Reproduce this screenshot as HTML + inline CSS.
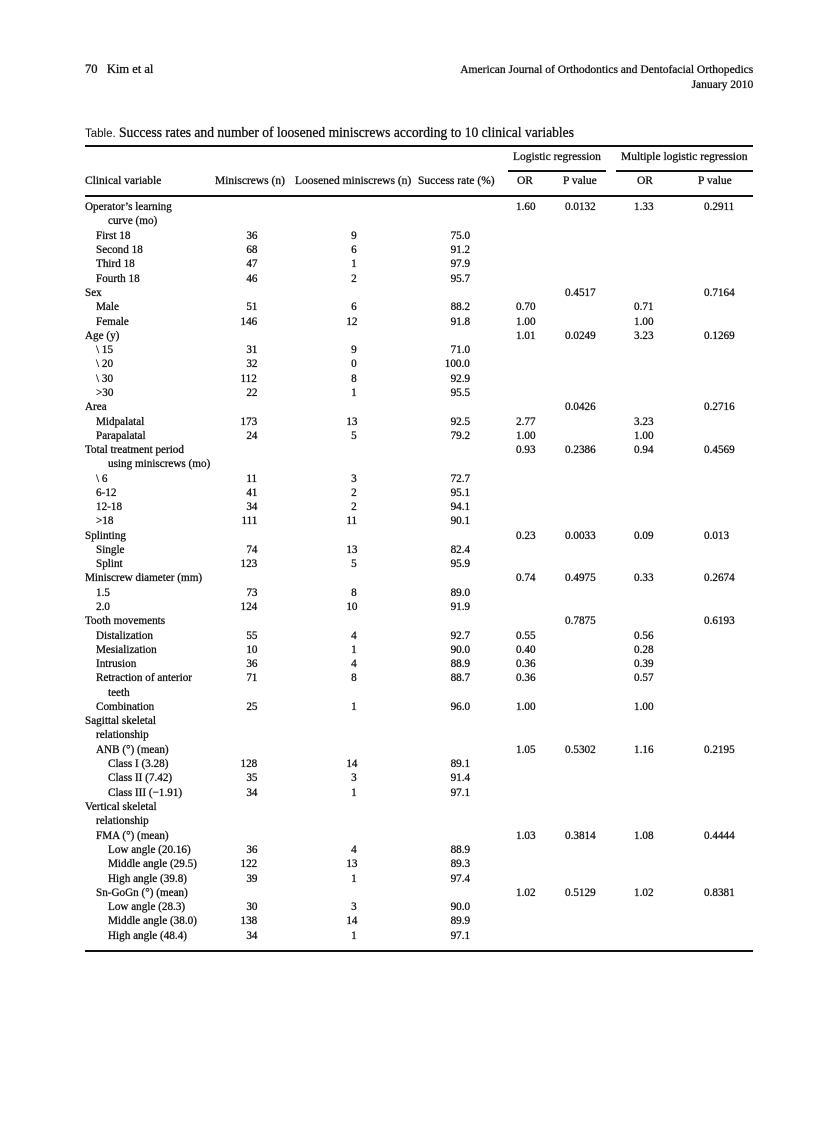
<!DOCTYPE html>
<html><head><meta charset="utf-8"><style>
body{margin:0;background:#fff;}
#pg{position:relative;width:838px;height:1122px;overflow:hidden;font-family:"Liberation Serif",serif;color:#111;font-size:11.5px;-webkit-text-stroke:0.3px #111;}
.r{position:absolute;left:0;width:838px;height:15px;line-height:15px;}
.r span{position:absolute;white-space:nowrap;transform:scaleX(.97);}
.m{right:581px;transform-origin:right center!important}
.n{right:481px;transform-origin:right center!important}
.s{right:368px;transform-origin:right center!important}
.o{left:516px;transform-origin:left center!important}
.p{left:565px;transform-origin:left center!important}
.q{left:634px;transform-origin:left center!important}
.v{left:704px;transform-origin:left center!important}
.a{left:85px;transform-origin:left center!important}
.b{left:96px;transform-origin:left center!important}
.c{left:108px;transform-origin:left center!important}
.hl{position:absolute;background:#111;}
.t{position:absolute;white-space:nowrap;}
.h span{transform:scaleX(1.0)!important;transform-origin:left center}
</style></head><body><div id="pg">
<div class="t" style="left:85px;top:62px;font-size:12.5px;">70&nbsp;&nbsp;&nbsp;Kim et al</div>
<div class="t" style="right:85px;top:62px;font-size:12px;transform:scaleX(.96);transform-origin:right">American Journal of Orthodontics and Dentofacial Orthopedics</div>
<div class="t" style="right:85px;top:77px;font-size:12px;transform:scaleX(.96);transform-origin:right">January 2010</div>
<div class="t" style="left:85px;top:125px;font-size:15px;"><span style="font-family:'Liberation Sans',sans-serif;font-size:11.5px;-webkit-text-stroke:0">Table.</span> <span style="display:inline-block;transform:scaleX(.905);transform-origin:left">Success rates and number of loosened miniscrews according to 10 clinical variables</span></div>
<div class="hl" style="left:85px;top:145px;width:668px;height:2px"></div>
<div class="r h" style="top:150px"><span style="left:513px">Logistic regression</span><span style="left:621px">Multiple logistic regression</span></div>
<div class="hl" style="left:508px;top:170px;width:98px;height:1.5px"></div>
<div class="hl" style="left:616px;top:170px;width:137px;height:1.5px"></div>
<div class="r h" style="top:174px"><span style="left:85px">Clinical variable</span><span style="left:215px">Miniscrews (n)</span><span style="left:295px">Loosened miniscrews (n)</span><span style="left:418px">Success rate (%)</span><span style="left:517px">OR</span><span style="left:563px">P value</span><span style="left:637px">OR</span><span style="left:698px">P value</span></div>
<div class="hl" style="left:85px;top:195px;width:668px;height:1.5px"></div>
<div class="r" style="top:200px"><span class="a">Operator’s learning</span><span class="o">1.60</span><span class="p">0.0132</span><span class="q">1.33</span><span class="v">0.2911</span></div>
<div class="r" style="top:214px"><span class="c">curve (mo)</span></div>
<div class="r" style="top:229px"><span class="b">First 18</span><span class="m">36</span><span class="n">9</span><span class="s">75.0</span></div>
<div class="r" style="top:243px"><span class="b">Second 18</span><span class="m">68</span><span class="n">6</span><span class="s">91.2</span></div>
<div class="r" style="top:257px"><span class="b">Third 18</span><span class="m">47</span><span class="n">1</span><span class="s">97.9</span></div>
<div class="r" style="top:272px"><span class="b">Fourth 18</span><span class="m">46</span><span class="n">2</span><span class="s">95.7</span></div>
<div class="r" style="top:286px"><span class="a">Sex</span><span class="p">0.4517</span><span class="v">0.7164</span></div>
<div class="r" style="top:300px"><span class="b">Male</span><span class="m">51</span><span class="n">6</span><span class="s">88.2</span><span class="o">0.70</span><span class="q">0.71</span></div>
<div class="r" style="top:315px"><span class="b">Female</span><span class="m">146</span><span class="n">12</span><span class="s">91.8</span><span class="o">1.00</span><span class="q">1.00</span></div>
<div class="r" style="top:329px"><span class="a">Age (y)</span><span class="o">1.01</span><span class="p">0.0249</span><span class="q">3.23</span><span class="v">0.1269</span></div>
<div class="r" style="top:343px"><span class="b">\ 15</span><span class="m">31</span><span class="n">9</span><span class="s">71.0</span></div>
<div class="r" style="top:357px"><span class="b">\ 20</span><span class="m">32</span><span class="n">0</span><span class="s">100.0</span></div>
<div class="r" style="top:372px"><span class="b">\ 30</span><span class="m">112</span><span class="n">8</span><span class="s">92.9</span></div>
<div class="r" style="top:386px"><span class="b">&gt;30</span><span class="m">22</span><span class="n">1</span><span class="s">95.5</span></div>
<div class="r" style="top:400px"><span class="a">Area</span><span class="p">0.0426</span><span class="v">0.2716</span></div>
<div class="r" style="top:415px"><span class="b">Midpalatal</span><span class="m">173</span><span class="n">13</span><span class="s">92.5</span><span class="o">2.77</span><span class="q">3.23</span></div>
<div class="r" style="top:429px"><span class="b">Parapalatal</span><span class="m">24</span><span class="n">5</span><span class="s">79.2</span><span class="o">1.00</span><span class="q">1.00</span></div>
<div class="r" style="top:443px"><span class="a">Total treatment period</span><span class="o">0.93</span><span class="p">0.2386</span><span class="q">0.94</span><span class="v">0.4569</span></div>
<div class="r" style="top:457px"><span class="c">using miniscrews (mo)</span></div>
<div class="r" style="top:472px"><span class="b">\ 6</span><span class="m">11</span><span class="n">3</span><span class="s">72.7</span></div>
<div class="r" style="top:486px"><span class="b">6-12</span><span class="m">41</span><span class="n">2</span><span class="s">95.1</span></div>
<div class="r" style="top:500px"><span class="b">12-18</span><span class="m">34</span><span class="n">2</span><span class="s">94.1</span></div>
<div class="r" style="top:514px"><span class="b">&gt;18</span><span class="m">111</span><span class="n">11</span><span class="s">90.1</span></div>
<div class="r" style="top:529px"><span class="a">Splinting</span><span class="o">0.23</span><span class="p">0.0033</span><span class="q">0.09</span><span class="v">0.013</span></div>
<div class="r" style="top:543px"><span class="b">Single</span><span class="m">74</span><span class="n">13</span><span class="s">82.4</span></div>
<div class="r" style="top:557px"><span class="b">Splint</span><span class="m">123</span><span class="n">5</span><span class="s">95.9</span></div>
<div class="r" style="top:571px"><span class="a">Miniscrew diameter (mm)</span><span class="o">0.74</span><span class="p">0.4975</span><span class="q">0.33</span><span class="v">0.2674</span></div>
<div class="r" style="top:586px"><span class="b">1.5</span><span class="m">73</span><span class="n">8</span><span class="s">89.0</span></div>
<div class="r" style="top:600px"><span class="b">2.0</span><span class="m">124</span><span class="n">10</span><span class="s">91.9</span></div>
<div class="r" style="top:614px"><span class="a">Tooth movements</span><span class="p">0.7875</span><span class="v">0.6193</span></div>
<div class="r" style="top:629px"><span class="b">Distalization</span><span class="m">55</span><span class="n">4</span><span class="s">92.7</span><span class="o">0.55</span><span class="q">0.56</span></div>
<div class="r" style="top:643px"><span class="b">Mesialization</span><span class="m">10</span><span class="n">1</span><span class="s">90.0</span><span class="o">0.40</span><span class="q">0.28</span></div>
<div class="r" style="top:657px"><span class="b">Intrusion</span><span class="m">36</span><span class="n">4</span><span class="s">88.9</span><span class="o">0.36</span><span class="q">0.39</span></div>
<div class="r" style="top:671px"><span class="b">Retraction of anterior</span><span class="m">71</span><span class="n">8</span><span class="s">88.7</span><span class="o">0.36</span><span class="q">0.57</span></div>
<div class="r" style="top:686px"><span class="c">teeth</span></div>
<div class="r" style="top:700px"><span class="b">Combination</span><span class="m">25</span><span class="n">1</span><span class="s">96.0</span><span class="o">1.00</span><span class="q">1.00</span></div>
<div class="r" style="top:714px"><span class="a">Sagittal skeletal</span></div>
<div class="r" style="top:728px"><span class="b">relationship</span></div>
<div class="r" style="top:743px"><span class="b">ANB (°) (mean)</span><span class="o">1.05</span><span class="p">0.5302</span><span class="q">1.16</span><span class="v">0.2195</span></div>
<div class="r" style="top:757px"><span class="c">Class I (3.28)</span><span class="m">128</span><span class="n">14</span><span class="s">89.1</span></div>
<div class="r" style="top:771px"><span class="c">Class II (7.42)</span><span class="m">35</span><span class="n">3</span><span class="s">91.4</span></div>
<div class="r" style="top:786px"><span class="c">Class III (−1.91)</span><span class="m">34</span><span class="n">1</span><span class="s">97.1</span></div>
<div class="r" style="top:800px"><span class="a">Vertical skeletal</span></div>
<div class="r" style="top:814px"><span class="b">relationship</span></div>
<div class="r" style="top:829px"><span class="b">FMA (°) (mean)</span><span class="o">1.03</span><span class="p">0.3814</span><span class="q">1.08</span><span class="v">0.4444</span></div>
<div class="r" style="top:843px"><span class="c">Low angle (20.16)</span><span class="m">36</span><span class="n">4</span><span class="s">88.9</span></div>
<div class="r" style="top:857px"><span class="c">Middle angle (29.5)</span><span class="m">122</span><span class="n">13</span><span class="s">89.3</span></div>
<div class="r" style="top:872px"><span class="c">High angle (39.8)</span><span class="m">39</span><span class="n">1</span><span class="s">97.4</span></div>
<div class="r" style="top:886px"><span class="b">Sn-GoGn (°) (mean)</span><span class="o">1.02</span><span class="p">0.5129</span><span class="q">1.02</span><span class="v">0.8381</span></div>
<div class="r" style="top:900px"><span class="c">Low angle (28.3)</span><span class="m">30</span><span class="n">3</span><span class="s">90.0</span></div>
<div class="r" style="top:914px"><span class="c">Middle angle (38.0)</span><span class="m">138</span><span class="n">14</span><span class="s">89.9</span></div>
<div class="r" style="top:929px"><span class="c">High angle (48.4)</span><span class="m">34</span><span class="n">1</span><span class="s">97.1</span></div>
<div class="hl" style="left:85px;top:950px;width:668px;height:2px"></div>
</div></body></html>
